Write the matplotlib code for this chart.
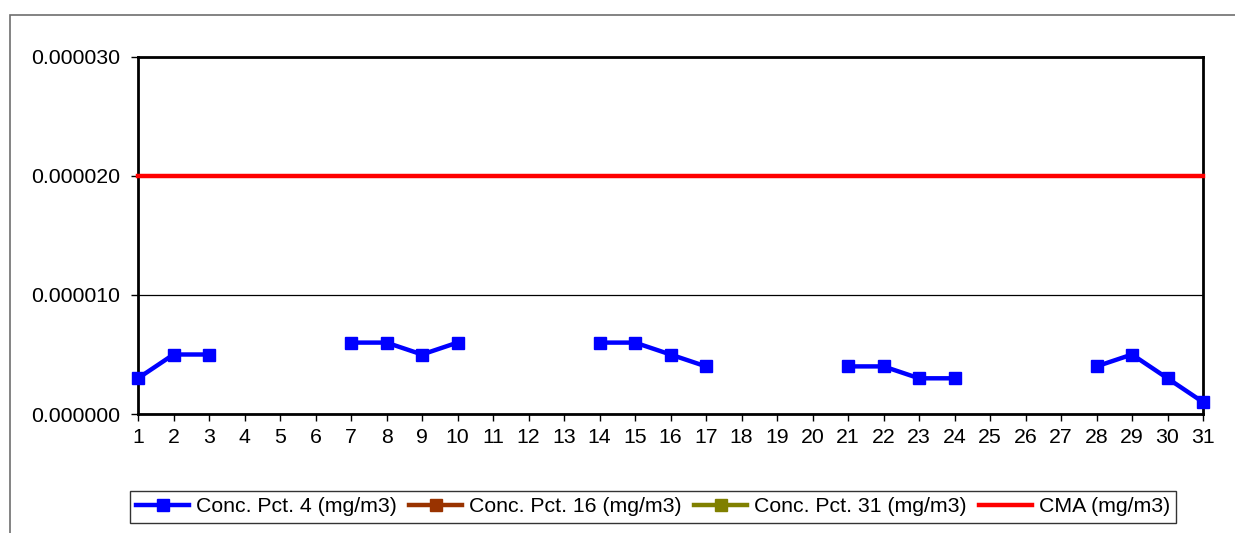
import numpy as np
import matplotlib
matplotlib.use("Agg")
import matplotlib.pyplot as plt
from matplotlib.patches import Rectangle
from matplotlib.ticker import FormatStrFormatter, MultipleLocator

plt.rcParams["font.family"] = ["Liberation Sans", "DejaVu Sans"]

days = list(range(1, 32))
nan = np.nan
# Conc. Pct. 4 (mg/m3), gaps are days without measurement
pct4 = [0.000003, 0.000005, 0.000005, nan, nan, nan,
        0.000006, 0.000006, 0.000005, 0.000006, nan, nan, nan,
        0.000006, 0.000006, 0.000005, 0.000004, nan, nan, nan,
        0.000004, 0.000004, 0.000003, 0.000003, nan, nan, nan,
        0.000004, 0.000005, 0.000003, 0.000001]
pct16 = [nan] * 31
pct31 = [nan] * 31
cma = [0.00002] * 31

fig = plt.figure(figsize=(12.35, 5.33), dpi=100)
# outer chart frame (runs off the right/bottom edge like the source)
fig.patches.append(Rectangle((10 / 1235, -0.05), 1.1, 1 - 15 / 533 + 0.05,
                             transform=fig.transFigure, fill=False,
                             edgecolor="#6e6e6e", linewidth=1.2))

ax = fig.add_axes([138 / 1235, 1 - 414 / 533, (1203 - 138) / 1235, (414 - 57) / 533])

ax.plot(days, pct4, color="#0000ff", lw=3.2, marker="s", ms=8.5,
        label="Conc. Pct. 4 (mg/m3)", clip_on=False, zorder=4)
ax.plot(days, pct16, color="#993300", lw=3.2, marker="s", ms=8.5,
        label="Conc. Pct. 16 (mg/m3)")
ax.plot(days, pct31, color="#808000", lw=3.2, marker="s", ms=8.5,
        label="Conc. Pct. 31 (mg/m3)")
ax.plot(days, cma, color="#ff0000", lw=3.2, label="CMA (mg/m3)",
        clip_on=False, zorder=3)

ax.set_xlim(1, 31)
ax.set_ylim(0, 0.00003)
ax.set_xticks(days)
ax.yaxis.set_major_locator(MultipleLocator(0.00001))
ax.yaxis.set_major_formatter(FormatStrFormatter("%.6f"))
ax.yaxis.grid(True, color="black", lw=0.9)
ax.set_axisbelow(True)

for s in ax.spines.values():
    s.set_linewidth(2)
    s.set_color("black")
ax.tick_params(axis="both", direction="out", length=5, width=1,
               labelsize=15.3, colors="black")
ax.tick_params(axis="y", pad=8)
ax.tick_params(axis="x", pad=5)

leg = fig.legend(loc="center", bbox_to_anchor=(653 / 1235, 1 - 507 / 533),
                 ncol=4, fontsize=15.3, frameon=True, fancybox=False,
                 edgecolor="black", handlelength=2.5, handletextpad=0.3,
                 columnspacing=0.6, borderpad=0.3)
leg.get_frame().set_linewidth(1)

fig.savefig("out.png", dpi=100)
